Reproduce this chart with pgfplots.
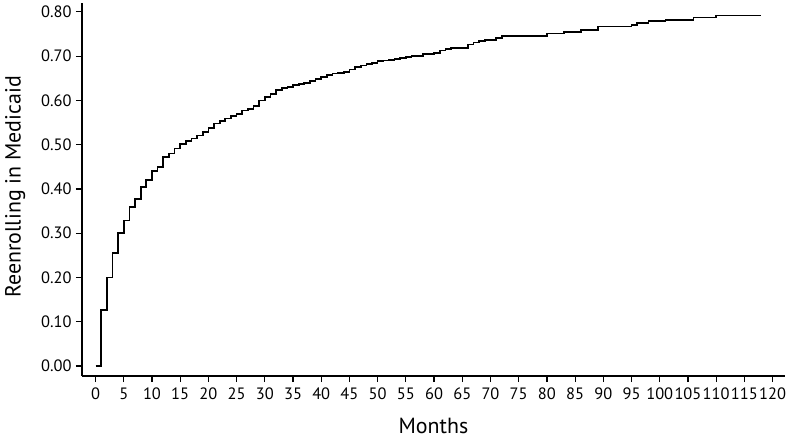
\documentclass[border=0pt]{standalone}
\usepackage{pgfplots}
\pgfplotsset{compat=1.18}
\usepackage{fontspec}
\setmainfont{PT Sans}
\begin{document}
\begin{tikzpicture}
\begin{axis}[
  scale only axis,
  width=703bp, height=373bp,
  xmin=-2.4, xmax=122.2,
  ymin=-0.0226, ymax=0.82,
  axis lines=left,
  axis line style={-, line width=1.4bp},
  tick style={line width=1.2bp, black},
  tick align=outside,
  major tick length=6bp,
  xtick={0,5,...,120},
  ytick={0,0.1,...,0.8},
  /pgf/number format/assume math mode=true,
  tick label style={font=\fontsize{16.5}{19}\selectfont},
  xticklabel style={yshift=-2bp},
  yticklabel style={xshift=-1bp, /pgf/number format/.cd, fixed, fixed zerofill, precision=2},
  xlabel={Months},
  ylabel={Reenrolling in Medicaid},
  label style={font=\fontsize{22}{26}\selectfont},
  xlabel style={at={(axis description cs:0.5,-0.133)}, anchor=center},
  ylabel style={at={(axis description cs:-0.095,0.507)}, anchor=center},
  clip=false,
]
\addplot[const plot, black, line width=1.7bp] coordinates {
(0,0) (1,0.127) (2,0.200) (3,0.255) (4,0.300) (5,0.329) (6,0.359) (7,0.377)
(8,0.405) (9,0.420) (10,0.440) (11,0.450) (12,0.472) (13,0.480) (14,0.491)
(15,0.502) (16,0.508) (17,0.514) (18,0.521) (19,0.528) (20,0.538) (21,0.548)
(22,0.553) (23,0.559) (24,0.565) (25,0.570) (26,0.577) (27,0.581) (28,0.587)
(29,0.600) (30,0.607) (31,0.615) (32,0.623) (33,0.628) (34,0.631) (35,0.634)
(36,0.637) (37,0.640) (38,0.644) (39,0.649) (40,0.653) (41,0.658) (42,0.661)
(43,0.662) (44,0.664) (45,0.670) (46,0.675) (47,0.679) (48,0.682) (49,0.685)
(50,0.689) (51,0.690) (52,0.692) (53,0.694) (54,0.696) (55,0.698) (56,0.700)
(57,0.701) (58,0.704) (59,0.705) (60,0.707) (61,0.713) (62,0.716) (63,0.719)
(66,0.726) (67,0.731) (68,0.734) (69,0.736) (71,0.741) (72,0.746) (80,0.751)
(83,0.755) (86,0.759) (89,0.767) (95,0.771) (96,0.775) (98,0.779) (101,0.782)
(106,0.787) (110,0.792) (118,0.792)
};
\coordinate (bl) at (rel axis cs:0,0);
\coordinate (tr) at (rel axis cs:1,1);
\end{axis}
\pgfresetboundingbox
\useasboundingbox ([shift={(-82bp,-65bp)}]bl) rectangle ([shift={(5bp,3bp)}]tr);
\end{tikzpicture}
\end{document}
